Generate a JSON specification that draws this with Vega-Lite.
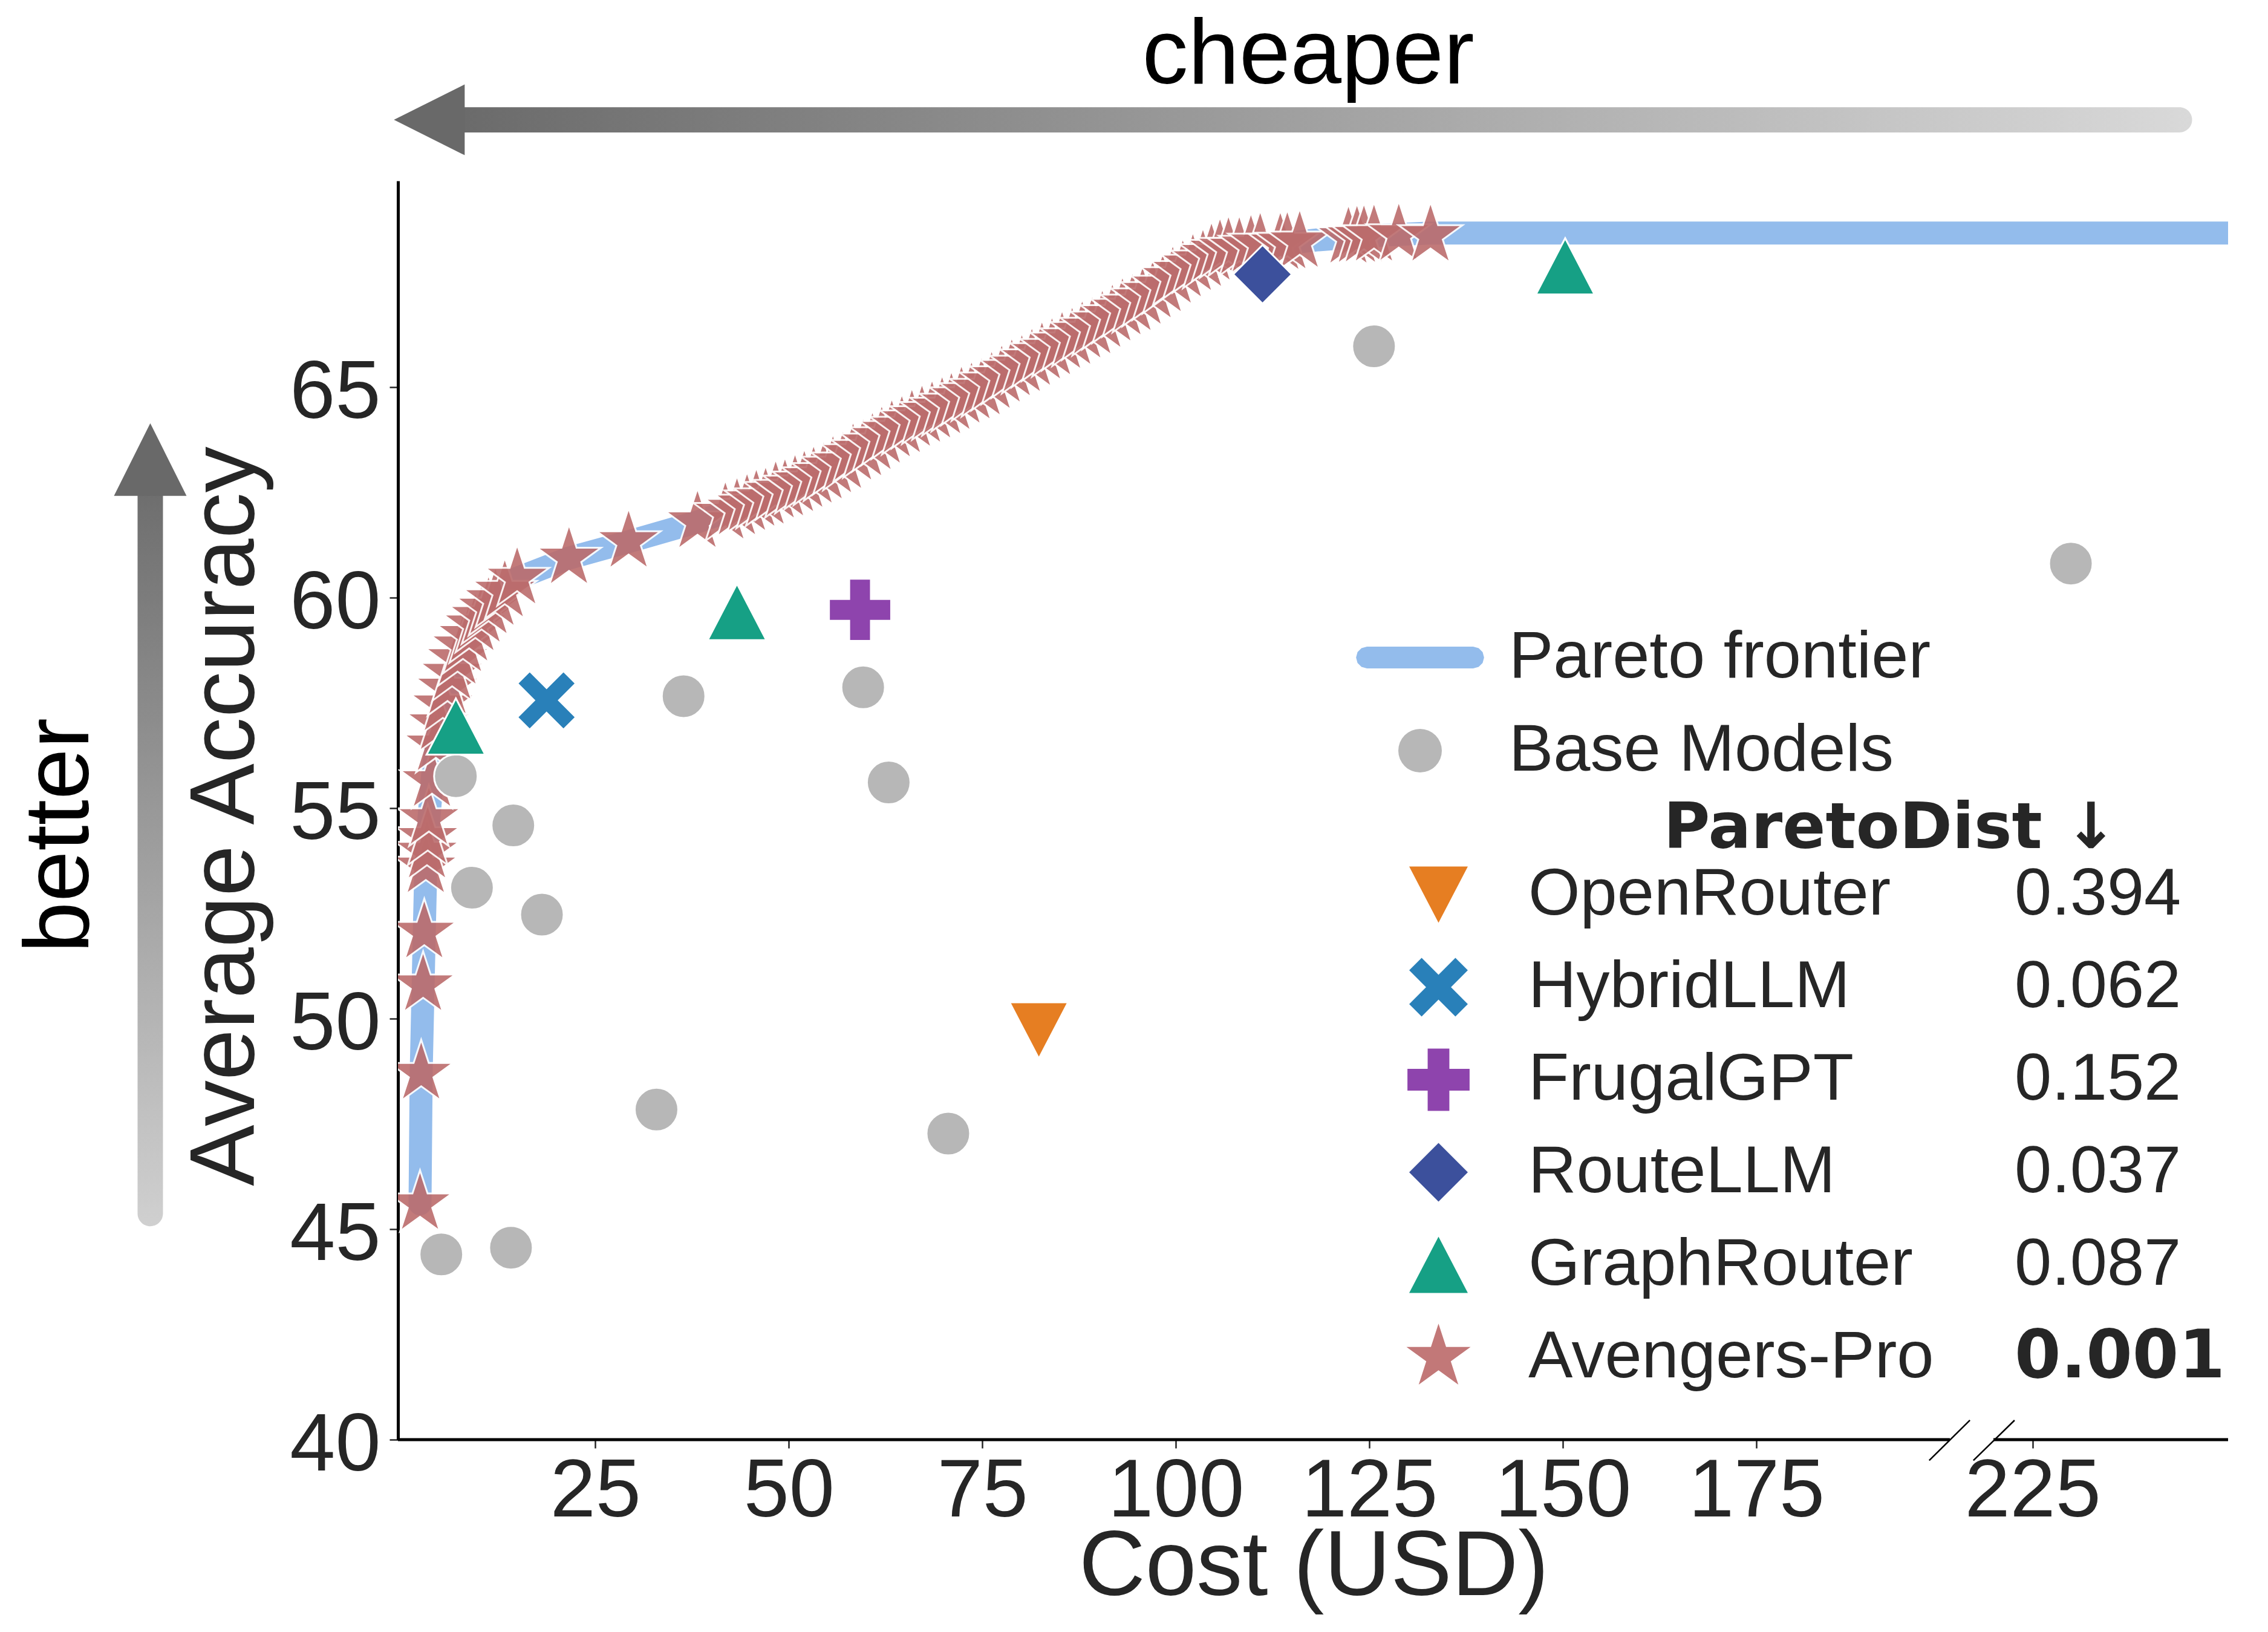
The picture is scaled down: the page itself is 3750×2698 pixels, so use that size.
{
  "$schema": "https://vega.github.io/schema/vega-lite/v6.json",
  "width": 3026,
  "height": 2081,
  "autosize": {"type": "none"},
  "padding": {"left": 658, "top": 299, "right": 66, "bottom": 318},
  "background": "white",
  "config": {
    "view": {"stroke": null},
    "font": "Liberation Sans"
  },
  "datasets": {
    "frontier": [
      {"cost": 2.35, "acc": 45.6}, {"cost": 2.5, "acc": 48.7}, {"cost": 2.75, "acc": 50.8},
      {"cost": 2.9, "acc": 52.05}, {"cost": 3.1, "acc": 53.6}, {"cost": 3.5, "acc": 54.75},
      {"cost": 3.9, "acc": 55.65}, {"cost": 4.4, "acc": 56.5}, {"cost": 5.3, "acc": 57.45},
      {"cost": 6.5, "acc": 58.2}, {"cost": 7.9, "acc": 58.85}, {"cost": 9.5, "acc": 59.35},
      {"cost": 11.2, "acc": 59.75}, {"cost": 13.3, "acc": 60.15}, {"cost": 14.9, "acc": 60.46},
      {"cost": 21.6, "acc": 60.94}, {"cost": 29.3, "acc": 61.33}, {"cost": 38.2, "acc": 61.8},
      {"cost": 44.6, "acc": 62.2}, {"cost": 50.8, "acc": 62.65}, {"cost": 55.7, "acc": 63.1},
      {"cost": 60.8, "acc": 63.65}, {"cost": 65.9, "acc": 64.2}, {"cost": 71.0, "acc": 64.6},
      {"cost": 76.2, "acc": 65.1}, {"cost": 81.4, "acc": 65.65}, {"cost": 86.6, "acc": 66.15},
      {"cost": 91.8, "acc": 66.7}, {"cost": 97.0, "acc": 67.25}, {"cost": 100.9, "acc": 67.75},
      {"cost": 104.6, "acc": 68.15}, {"cost": 108.2, "acc": 68.3}, {"cost": 113.5, "acc": 68.4},
      {"cost": 118.4, "acc": 68.5}, {"cost": 125.6, "acc": 68.6}, {"cost": 132.9, "acc": 68.66},
      {"cost": 250, "acc": 68.66}
    ],
    "avengers": [
      {"cost": 2.35, "acc": 45.6}, {"cost": 2.5, "acc": 48.7}, {"cost": 2.75, "acc": 50.8},
      {"cost": 2.9, "acc": 52.05}, {"cost": 3.1, "acc": 53.6}, {"cost": 3.25, "acc": 53.95},
      {"cost": 3.35, "acc": 54.3}, {"cost": 3.5, "acc": 54.75}, {"cost": 3.9, "acc": 55.65},
      {"cost": 4.4, "acc": 56.5}, {"cost": 4.8, "acc": 57.0}, {"cost": 5.3, "acc": 57.45},
      {"cost": 5.9, "acc": 57.85}, {"cost": 6.5, "acc": 58.2}, {"cost": 7.2, "acc": 58.55},
      {"cost": 7.9, "acc": 58.85}, {"cost": 8.7, "acc": 59.1}, {"cost": 9.5, "acc": 59.35},
      {"cost": 10.3, "acc": 59.55}, {"cost": 11.2, "acc": 59.75}, {"cost": 12.1, "acc": 59.95},
      {"cost": 13.3, "acc": 60.15}, {"cost": 14.9, "acc": 60.46}, {"cost": 21.6, "acc": 60.94},
      {"cost": 29.3, "acc": 61.33}, {"cost": 38.2, "acc": 61.8}, {"cost": 41.8, "acc": 62.0},
      {"cost": 43.3, "acc": 62.1}, {"cost": 44.6, "acc": 62.2}, {"cost": 45.8, "acc": 62.3},
      {"cost": 47.0, "acc": 62.35}, {"cost": 48.3, "acc": 62.5}, {"cost": 49.5, "acc": 62.55},
      {"cost": 50.8, "acc": 62.65}, {"cost": 52.0, "acc": 62.75}, {"cost": 53.2, "acc": 62.85},
      {"cost": 54.5, "acc": 62.95}, {"cost": 55.7, "acc": 63.1}, {"cost": 57.0, "acc": 63.2},
      {"cost": 58.3, "acc": 63.4}, {"cost": 59.6, "acc": 63.5}, {"cost": 60.8, "acc": 63.65},
      {"cost": 62.0, "acc": 63.8}, {"cost": 63.3, "acc": 63.95}, {"cost": 64.6, "acc": 64.05},
      {"cost": 65.9, "acc": 64.2}, {"cost": 67.2, "acc": 64.3}, {"cost": 68.5, "acc": 64.4},
      {"cost": 69.8, "acc": 64.5}, {"cost": 71.0, "acc": 64.6}, {"cost": 72.3, "acc": 64.75},
      {"cost": 73.6, "acc": 64.85}, {"cost": 74.9, "acc": 64.95}, {"cost": 76.2, "acc": 65.1},
      {"cost": 77.5, "acc": 65.25}, {"cost": 78.8, "acc": 65.4}, {"cost": 80.1, "acc": 65.5},
      {"cost": 81.4, "acc": 65.65}, {"cost": 82.7, "acc": 65.8}, {"cost": 84.0, "acc": 65.9},
      {"cost": 85.3, "acc": 66.05}, {"cost": 86.6, "acc": 66.15}, {"cost": 87.9, "acc": 66.3},
      {"cost": 89.2, "acc": 66.4}, {"cost": 90.5, "acc": 66.55}, {"cost": 91.8, "acc": 66.7},
      {"cost": 93.1, "acc": 66.85}, {"cost": 94.4, "acc": 66.95}, {"cost": 95.7, "acc": 67.1},
      {"cost": 97.0, "acc": 67.25}, {"cost": 98.3, "acc": 67.4}, {"cost": 99.6, "acc": 67.6},
      {"cost": 100.9, "acc": 67.75}, {"cost": 102.2, "acc": 67.9}, {"cost": 103.5, "acc": 68.0},
      {"cost": 104.6, "acc": 68.15}, {"cost": 105.7, "acc": 68.25}, {"cost": 106.8, "acc": 68.3},
      {"cost": 108.2, "acc": 68.3}, {"cost": 109.7, "acc": 68.35}, {"cost": 110.9, "acc": 68.4},
      {"cost": 113.5, "acc": 68.4}, {"cost": 114.4, "acc": 68.42}, {"cost": 116.0, "acc": 68.45},
      {"cost": 122.3, "acc": 68.55}, {"cost": 123.4, "acc": 68.57}, {"cost": 124.3, "acc": 68.58},
      {"cost": 125.6, "acc": 68.6}, {"cost": 128.8, "acc": 68.62}, {"cost": 132.9, "acc": 68.6}
    ],
    "base": [
      {"kind": "Base Models", "cost": 36.4, "acc": 57.66},
      {"kind": "Base Models", "cost": 59.6, "acc": 57.87},
      {"kind": "Base Models", "cost": 6.98, "acc": 55.76},
      {"kind": "Base Models", "cost": 62.9, "acc": 55.61},
      {"kind": "Base Models", "cost": 14.4, "acc": 54.59},
      {"kind": "Base Models", "cost": 9.06, "acc": 53.11},
      {"kind": "Base Models", "cost": 18.1, "acc": 52.47},
      {"kind": "Base Models", "cost": 32.9, "acc": 47.84},
      {"kind": "Base Models", "cost": 70.6, "acc": 47.27},
      {"kind": "Base Models", "cost": 5.1, "acc": 44.4},
      {"kind": "Base Models", "cost": 14.1, "acc": 44.56},
      {"kind": "Base Models", "cost": 125.6, "acc": 65.97},
      {"kind": "Base Models", "cost": 229.9, "acc": 60.81}
    ],
    "methods": [
      {"method": "OpenRouter", "dist": "0.394", "cost": 82.3, "acc": 49.72},
      {"method": "HybridLLM", "dist": "0.062", "cost": 18.7, "acc": 57.56},
      {"method": "FrugalGPT", "dist": "0.152", "cost": 59.2, "acc": 59.71},
      {"method": "RouteLLM", "dist": "0.037", "cost": 111.2, "acc": 67.68},
      {"method": "GraphRouter", "dist": "0.087", "cost": 6.98, "acc": 56.94},
      {"method": "GraphRouter", "dist": "0.087", "cost": 43.3, "acc": 59.66},
      {"method": "GraphRouter", "dist": "0.087", "cost": 150.3, "acc": 67.87}
    ]
  },
  "layer": [
    {
      "data": {"values": [{}]},
      "mark": {
        "type": "rect",
        "cornerRadius": 21,
        "fill": {"gradient": "linear", "x1": 0, "y1": 0, "x2": 1, "y2": 0,
          "stops": [{"offset": 0, "color": "#696969"}, {"offset": 1, "color": "#D9D9D9"}]}
      },
      "encoding": {
        "x": {"datum": 4, "scale": {"domain": [-0.5, 200, 220, 250], "range": [0, 2566, 2638, 3026], "nice": false, "zero": false}},
        "x2": {"datum": 245.4},
        "y": {"datum": 71.05, "scale": {"domain": [40, 69.9], "nice": false, "zero": false}},
        "y2": {"datum": 71.65}
      }
    },
    {
      "data": {"values": [{}]},
      "mark": {
        "type": "rect",
        "cornerRadius": 21,
        "fill": {"gradient": "linear", "x1": 0, "y1": 0, "x2": 0, "y2": 1,
          "stops": [{"offset": 0, "color": "#696969"}, {"offset": 1, "color": "#D0D0D0"}]}
      },
      "encoding": {
        "x": {"datum": -34.14, "scale": {"domain": [-0.5, 200, 220, 250], "range": [0, 2566, 2638, 3026], "nice": false, "zero": false}},
        "x2": {"datum": -30.86},
        "y": {"datum": 63.4, "scale": {"domain": [40, 69.9], "nice": false, "zero": false}},
        "y2": {"datum": 45.07}
      }
    },
    {
      "data": {"values": [{}]},
      "mark": {"type": "point", "shape": "M-1,0L1,-1L1,1Z", "filled": true, "fill": "#696969", "strokeWidth": 0, "opacity": 1, "size": 13689},
      "encoding": {
        "x": {"datum": 3.55, "scale": {"domain": [-0.5, 200, 220, 250], "range": [0, 2566, 2638, 3026], "nice": false, "zero": false}},
        "y": {"datum": 71.35, "scale": {"domain": [40, 69.9], "nice": false, "zero": false}}
      }
    },
    {
      "data": {"values": [{}]},
      "mark": {"type": "point", "shape": "M0,-1L1,1L-1,1Z", "filled": true, "fill": "#696969", "strokeWidth": 0, "opacity": 1, "size": 14400},
      "encoding": {
        "x": {"datum": -32.5, "scale": {"domain": [-0.5, 200, 220, 250], "range": [0, 2566, 2638, 3026], "nice": false, "zero": false}},
        "y": {"datum": 63.28, "scale": {"domain": [40, 69.9], "nice": false, "zero": false}}
      }
    },
    {
      "data": {"values": [{}]},
      "mark": {"type": "text", "text": "cheaper", "font": "Liberation Sans", "fontSize": 152, "fill": "#000000", "align": "center", "baseline": "alphabetic"},
      "encoding": {
        "x": {"datum": 117.1, "scale": {"domain": [-0.5, 200, 220, 250], "range": [0, 2566, 2638, 3026], "nice": false, "zero": false}},
        "y": {"datum": 72.21, "scale": {"domain": [40, 69.9], "nice": false, "zero": false}}
      }
    },
    {
      "data": {"values": [{}]},
      "mark": {"type": "text", "text": "better", "font": "Liberation Sans", "fontSize": 152, "fill": "#000000", "align": "center", "baseline": "alphabetic", "angle": 270},
      "encoding": {
        "x": {"datum": -40.5, "scale": {"domain": [-0.5, 200, 220, 250], "range": [0, 2566, 2638, 3026], "nice": false, "zero": false}},
        "y": {"datum": 54.35, "scale": {"domain": [40, 69.9], "nice": false, "zero": false}}
      }
    },
    {
      "data": {"values": [{}]},
      "mark": {"type": "text", "text": "ParetoDist ↓", "font": "DejaVu Sans", "fontWeight": "bold", "fontSize": 105, "fill": "#262626", "align": "left", "baseline": "alphabetic"},
      "encoding": {
        "x": {"datum": 163.0, "scale": {"domain": [-0.5, 200, 220, 250], "range": [0, 2566, 2638, 3026], "nice": false, "zero": false}},
        "y": {"datum": 54.05, "scale": {"domain": [40, 69.9], "nice": false, "zero": false}}
      }
    },
    {
      "data": {"name": "frontier"},
      "mark": {"type": "line", "stroke": "#93BCEC", "strokeWidth": 38, "strokeCap": "round", "strokeJoin": "round", "clip": true},
      "encoding": {
        "x": {
          "field": "cost", "type": "quantitative",
          "scale": {"domain": [-0.5, 200, 220, 250], "range": [0, 2566, 2638, 3026], "nice": false, "zero": false},
          "axis": {
            "title": "Cost (USD)",
            "values": [25, 50, 75, 100, 125, 150, 175, 225],
            "format": "d",
            "domain": false, "grid": false,
            "tickSize": 14, "tickWidth": 2.5, "tickColor": "#262626",
            "labelFont": "Liberation Sans", "labelFontSize": 135, "labelColor": "#262626",
            "labelPadding": 5, "labelFlush": false, "labelOverlap": false, "labelLimit": 1000,
            "titleFont": "Liberation Sans", "titleFontSize": 152, "titleFontWeight": "normal",
            "titleColor": "#262626", "titleX": 1514, "titleY": 256, "titleBaseline": "alphabetic",
            "titleLimit": 3000
          }
        },
        "y": {
          "field": "acc", "type": "quantitative",
          "scale": {"domain": [40, 69.9], "nice": false, "zero": false},
          "axis": {
            "title": "Average Accuracy",
            "values": [40, 45, 50, 55, 60, 65],
            "format": "d",
            "domain": true, "domainColor": "#000000", "domainWidth": 5, "grid": false,
            "tickSize": 14, "tickWidth": 2.5, "tickColor": "#262626",
            "labelFont": "Liberation Sans", "labelFontSize": 135, "labelColor": "#262626",
            "labelPadding": 15, "labelOffset": 9, "labelLimit": 1000,
            "titleFont": "Liberation Sans", "titleFontSize": 152, "titleFontWeight": "normal",
            "titleColor": "#262626", "titleX": -239, "titleY": 1050, "titleBaseline": "alphabetic",
            "titleAngle": 270, "titleLimit": 3000
          }
        }
      }
    },
    {
      "data": {"name": "avengers"},
      "mark": {
        "type": "point", "filled": true, "clip": true,
        "shape": "M0,-1.15L0.2582,-0.3554L1.0937,-0.3554L0.4178,0.1357L0.6762,0.9304L0,0.4393L-0.6762,0.9304L-0.4178,0.1357L-1.0937,-0.3554L-0.2582,-0.3554Z",
        "size": 9400, "fill": "#BC6C6C", "opacity": 0.9, "stroke": "white", "strokeWidth": 3
      },
      "encoding": {
        "x": {"field": "cost", "type": "quantitative", "scale": {"domain": [-0.5, 200, 220, 250], "range": [0, 2566, 2638, 3026], "nice": false, "zero": false}},
        "y": {"field": "acc", "type": "quantitative", "scale": {"domain": [40, 69.9], "nice": false, "zero": false}}
      }
    },
    {
      "data": {"name": "base"},
      "mark": {"type": "point", "filled": true, "clip": true, "size": 5184, "opacity": 1, "stroke": "white", "strokeWidth": 3},
      "encoding": {
        "x": {"field": "cost", "type": "quantitative", "scale": {"domain": [-0.5, 200, 220, 250], "range": [0, 2566, 2638, 3026], "nice": false, "zero": false}},
        "y": {"field": "acc", "type": "quantitative", "scale": {"domain": [40, 69.9], "nice": false, "zero": false}},
        "color": {
          "field": "kind", "type": "nominal",
          "scale": {"domain": ["Pareto frontier", "Base Models"], "range": ["#93BCEC", "#B7B7B7"]},
          "legend": {
            "title": null, "orient": "none", "legendX": 1565, "legendY": 728, "padding": 0,
            "symbolSize": 5184, "symbolOffset": 70, "symbolStrokeWidth": 0, "symbolOpacity": 1, "clipHeight": 120, "rowPadding": 34,
            "labelOffset": 92, "labelFont": "Liberation Sans", "labelFontSize": 110,
            "labelColor": "#262626", "labelLimit": 1000
          }
        },
        "shape": {
          "field": "kind", "type": "nominal",
          "scale": {"domain": ["Pareto frontier", "Base Models"], "range": ["M-2.44,-0.5L2.44,-0.5L2.69,-0.433L2.873,-0.25L2.94,0L2.873,0.25L2.69,0.433L2.44,0.5L-2.44,0.5L-2.69,0.433L-2.873,0.25L-2.94,0L-2.873,-0.25L-2.69,-0.433Z", "circle"]},
          "legend": {
            "title": null, "orient": "none", "legendX": 1565, "legendY": 728, "padding": 0,
            "symbolSize": 5184, "symbolOffset": 70, "symbolStrokeWidth": 0, "symbolOpacity": 1, "clipHeight": 120, "rowPadding": 34,
            "labelOffset": 92, "labelFont": "Liberation Sans", "labelFontSize": 110,
            "labelColor": "#262626", "labelLimit": 1000
          }
        }
      }
    },
    {
      "data": {"name": "methods"},
      "mark": {"type": "point", "filled": true, "clip": true, "size": 9400, "stroke": "white", "strokeWidth": 3},
      "encoding": {
        "x": {"field": "cost", "type": "quantitative", "scale": {"domain": [-0.5, 200, 220, 250], "range": [0, 2566, 2638, 3026], "nice": false, "zero": false}},
        "y": {"field": "acc", "type": "quantitative", "scale": {"domain": [40, 69.9], "nice": false, "zero": false}},
        "color": {
          "field": "method", "type": "nominal",
          "scale": {
            "domain": ["OpenRouter", "HybridLLM", "FrugalGPT", "RouteLLM", "GraphRouter", "Avengers-Pro"],
            "range": ["#E67E22", "#2980B9", "#8E44AD", "#3C509C", "#16A085", "#C27878"]
          },
          "legend": {
            "title": null, "orient": "none", "legendX": 1665.5, "legendY": 1120, "padding": 0,
            "symbolSize": 9400, "symbolStrokeWidth": 0, "symbolOpacity": 1, "clipHeight": 120, "rowPadding": 33,
            "labelOffset": 93.5, "labelFont": "Liberation Sans", "labelFontSize": 110,
            "labelColor": "#262626", "labelLimit": 1000
          }
        },
        "shape": {
          "field": "method", "type": "nominal",
          "scale": {
            "domain": ["OpenRouter", "HybridLLM", "FrugalGPT", "RouteLLM", "GraphRouter", "Avengers-Pro"],
            "range": [
              "M-1,-0.96L1,-0.96L0,0.96Z",
              "M-0.576,-1L0,-0.424L0.576,-1L1,-0.576L0.424,0L1,0.576L0.576,1L0,0.424L-0.576,1L-1,0.576L-0.424,0L-1,-0.576Z",
              "M-1.06,-0.37H-0.37V-1.06H0.37V-0.37H1.06V0.37H0.37V1.06H-0.37V0.37H-1.06Z",
              "diamond",
              "M0,-0.96L1,0.96L-1,0.96Z",
              "M0,-1.15L0.2582,-0.3554L1.0937,-0.3554L0.4178,0.1357L0.6762,0.9304L0,0.4393L-0.6762,0.9304L-0.4178,0.1357L-1.0937,-0.3554L-0.2582,-0.3554Z"
            ]
          },
          "legend": {
            "title": null, "orient": "none", "legendX": 1665.5, "legendY": 1120, "padding": 0,
            "symbolSize": 9400, "symbolStrokeWidth": 0, "symbolOpacity": 1, "clipHeight": 120, "rowPadding": 33,
            "labelOffset": 93.5, "labelFont": "Liberation Sans", "labelFontSize": 110,
            "labelColor": "#262626", "labelLimit": 1000
          }
        },
        "opacity": {
          "field": "dist", "type": "ordinal",
          "scale": {"domain": ["0.394", "0.062", "0.152", "0.037", "0.087", "0.001"], "range": [1, 1]},
          "legend": {
            "title": null, "orient": "none", "legendX": 2563, "legendY": 1120, "padding": 0,
            "symbolSize": 0, "symbolOpacity": 0, "symbolStrokeWidth": 0,
            "symbolFillColor": "transparent", "symbolStrokeColor": "transparent",
            "clipHeight": 120, "rowPadding": 33,
            "labelOffset": 0, "labelFontSize": 110, "labelColor": "#262626", "labelLimit": 1000,
            "labelFont": {"expr": "datum.label === '0.001' ? 'DejaVu Sans' : 'Liberation Sans'"},
            "labelFontWeight": {"expr": "datum.label === '0.001' ? 'bold' : 'normal'"}
          }
        }
      }
    },
    {
      "data": {"values": [{}]},
      "mark": {"type": "rule", "stroke": "#000000", "strokeWidth": 5},
      "encoding": {
        "x": {"datum": -0.5, "scale": {"domain": [-0.5, 200, 220, 250], "range": [0, 2566, 2638, 3026], "nice": false, "zero": false}},
        "x2": {"datum": 200},
        "y": {"datum": 40, "scale": {"domain": [40, 69.9], "nice": false, "zero": false}}
      }
    },
    {
      "data": {"values": [{}]},
      "mark": {"type": "rule", "stroke": "#000000", "strokeWidth": 5},
      "encoding": {
        "x": {"datum": 220, "scale": {"domain": [-0.5, 200, 220, 250], "range": [0, 2566, 2638, 3026], "nice": false, "zero": false}},
        "x2": {"datum": 250},
        "y": {"datum": 40, "scale": {"domain": [40, 69.9], "nice": false, "zero": false}}
      }
    },
    {
      "data": {"values": [{}]},
      "mark": {"type": "rule", "stroke": "#000000", "strokeWidth": 2.5},
      "encoding": {
        "x": {"datum": 197.33, "scale": {"domain": [-0.5, 200, 220, 250], "range": [0, 2566, 2638, 3026], "nice": false, "zero": false}},
        "x2": {"datum": 209.2},
        "y": {"datum": 39.507, "scale": {"domain": [40, 69.9], "nice": false, "zero": false}},
        "y2": {"datum": 40.46}
      }
    },
    {
      "data": {"values": [{}]},
      "mark": {"type": "rule", "stroke": "#000000", "strokeWidth": 2.5},
      "encoding": {
        "x": {"datum": 210.8, "scale": {"domain": [-0.5, 200, 220, 250], "range": [0, 2566, 2638, 3026], "nice": false, "zero": false}},
        "x2": {"datum": 222.7},
        "y": {"datum": 39.507, "scale": {"domain": [40, 69.9], "nice": false, "zero": false}},
        "y2": {"datum": 40.46}
      }
    }
  ],
  "resolve": {"scale": {"color": "independent", "shape": "independent"}}
}
